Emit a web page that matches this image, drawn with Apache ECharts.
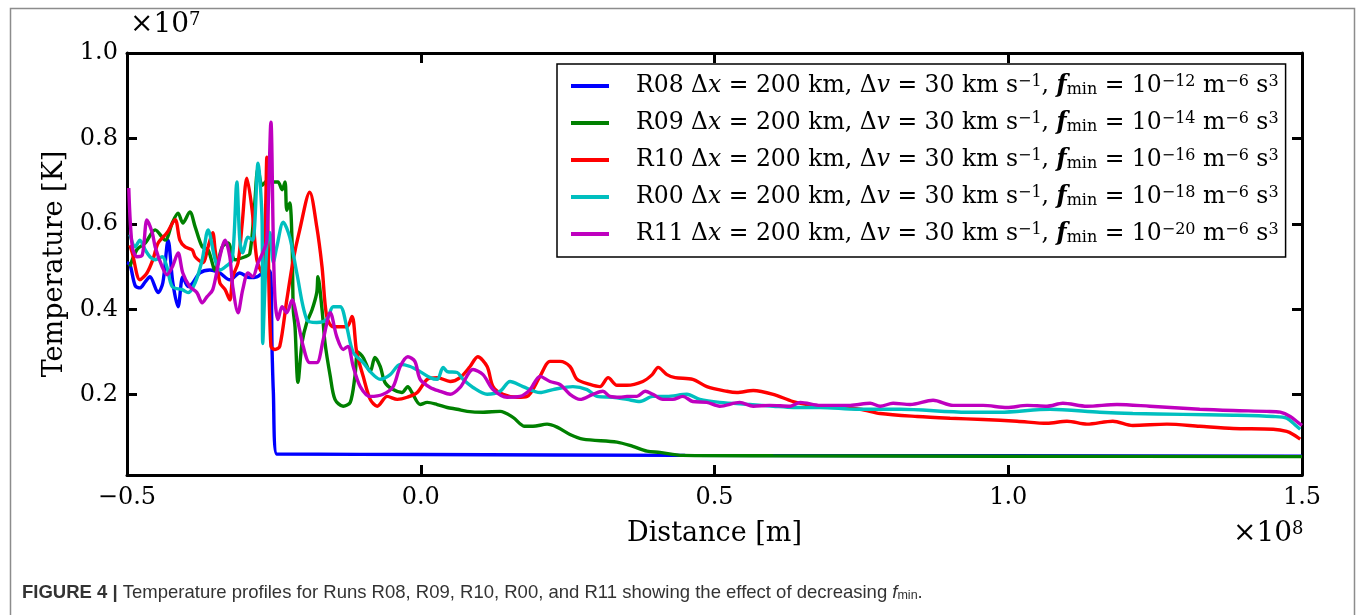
<!DOCTYPE html>
<html>
<head>
<meta charset="utf-8">
<script src="https://cdn.jsdelivr.net/npm/echarts@6/dist/echarts.min.js"></script>
<style>
html,body{margin:0;padding:0;background:#fff;}
#c{width:1360px;height:615px;}
</style>
</head>
<body>
<div id="c"></div>
<script>
// Distance in units of 1e8 m, temperature in units of 1e7 K
var xTicks = [-0.5, 0.0, 0.5, 1.0, 1.5];
var yTicks = [0.2, 0.4, 0.6, 0.8, 1.0];
var runNames = ['R08', 'R09', 'R10', 'R00', 'R11'];
var fminExp = ['−12', '−14', '−16', '−18', '−20'];
var colors = ['#0000ff', '#008000', '#ff0000', '#00bfbf', '#bf00bf'];

var r08 = [[-0.5,0.509],[-0.495,0.505],[-0.486,0.455],[-0.478,0.450],[-0.469,0.464],[-0.461,0.476],[-0.447,0.439],[-0.439,0.462],[-0.430,0.562],[-0.422,0.462],[-0.413,0.406],[-0.405,0.476],[-0.396,0.453],[-0.388,0.462],[-0.376,0.485],[-0.359,0.492],[-0.342,0.485],[-0.325,0.469],[-0.308,0.485],[-0.291,0.474],[-0.279,0.476],[-0.269,0.485],[-0.257,0.49],[-0.253,0.30],[-0.251,0.21],[-0.245,0.061],[0.0,0.060],[0.45,0.058],[1.0,0.057],[1.5,0.056]];

var r09 = [[-0.495,0.50],[-0.483,0.54],[-0.469,0.555],[-0.452,0.586],[-0.435,0.562],[-0.423,0.602],[-0.413,0.625],[-0.405,0.602],[-0.393,0.628],[-0.384,0.593],[-0.372,0.546],[-0.362,0.539],[-0.350,0.492],[-0.338,0.546],[-0.328,0.555],[-0.316,0.516],[-0.299,0.523],[-0.291,0.53],[-0.283,0.64],[-0.277,0.73],[-0.270,0.69],[-0.262,0.70],[-0.251,0.698],[-0.243,0.698],[-0.236,0.68],[-0.231,0.698],[-0.228,0.632],[-0.223,0.649],[-0.219,0.555],[-0.217,0.399],[-0.214,0.359],[-0.209,0.229],[-0.202,0.322],[-0.194,0.369],[-0.185,0.399],[-0.177,0.439],[-0.175,0.476],[-0.168,0.399],[-0.163,0.322],[-0.154,0.243],[-0.146,0.189],[-0.132,0.173],[-0.120,0.182],[-0.112,0.243],[-0.107,0.300],[-0.098,0.287],[-0.086,0.254],[-0.078,0.287],[-0.069,0.266],[-0.061,0.229],[-0.047,0.212],[-0.032,0.205],[-0.022,0.219],[-0.015,0.205],[-0.001,0.177],[0.011,0.182],[0.028,0.177],[0.045,0.170],[0.062,0.166],[0.079,0.161],[0.106,0.159],[0.135,0.161],[0.157,0.147],[0.177,0.126],[0.191,0.126],[0.215,0.131],[0.232,0.124],[0.254,0.107],[0.276,0.096],[0.334,0.089],[0.361,0.079],[0.385,0.068],[0.407,0.065],[0.446,0.058],[0.6,0.057],[1.0,0.056],[1.5,0.055]];

var r10 = [[-0.495,0.55],[-0.491,0.532],[-0.478,0.469],[-0.466,0.485],[-0.456,0.516],[-0.447,0.555],[-0.432,0.579],[-0.418,0.610],[-0.410,0.562],[-0.401,0.546],[-0.389,0.539],[-0.384,0.523],[-0.371,0.509],[-0.362,0.546],[-0.354,0.579],[-0.350,0.539],[-0.342,0.462],[-0.333,0.446],[-0.325,0.422],[-0.320,0.476],[-0.311,0.509],[-0.304,0.60],[-0.296,0.707],[-0.287,0.632],[-0.279,0.516],[-0.270,0.485],[-0.265,0.586],[-0.262,0.756],[-0.260,0.579],[-0.255,0.313],[-0.248,0.306],[-0.240,0.313],[-0.228,0.422],[-0.217,0.516],[-0.206,0.586],[-0.189,0.674],[-0.177,0.593],[-0.168,0.499],[-0.160,0.383],[-0.149,0.359],[-0.126,0.359],[-0.117,0.383],[-0.109,0.299],[-0.098,0.243],[-0.086,0.189],[-0.074,0.173],[-0.057,0.196],[-0.040,0.189],[-0.023,0.194],[-0.006,0.205],[0.011,0.236],[0.028,0.240],[0.050,0.231],[0.067,0.240],[0.084,0.266],[0.097,0.289],[0.113,0.266],[0.123,0.219],[0.140,0.201],[0.164,0.194],[0.181,0.196],[0.203,0.243],[0.220,0.278],[0.237,0.278],[0.254,0.266],[0.266,0.236],[0.288,0.224],[0.305,0.219],[0.319,0.240],[0.334,0.222],[0.351,0.222],[0.378,0.231],[0.394,0.247],[0.404,0.264],[0.419,0.247],[0.433,0.240],[0.463,0.236],[0.487,0.219],[0.521,0.208],[0.538,0.205],[0.566,0.210],[0.600,0.201],[0.634,0.184],[0.680,0.173],[0.702,0.172],[0.748,0.166],[0.782,0.156],[0.845,0.149],[0.901,0.145],[0.957,0.142],[1.015,0.138],[1.066,0.133],[1.100,0.138],[1.134,0.131],[1.178,0.138],[1.212,0.128],[1.270,0.131],[1.326,0.126],[1.383,0.121],[1.451,0.119],[1.474,0.114],[1.485,0.107],[1.497,0.096]];

var r00 = [[-0.495,0.575],[-0.486,0.546],[-0.478,0.562],[-0.469,0.539],[-0.461,0.523],[-0.452,0.516],[-0.440,0.523],[-0.432,0.499],[-0.423,0.453],[-0.406,0.446],[-0.396,0.439],[-0.384,0.462],[-0.372,0.516],[-0.362,0.586],[-0.350,0.516],[-0.342,0.492],[-0.333,0.499],[-0.321,0.516],[-0.313,0.698],[-0.308,0.562],[-0.303,0.532],[-0.294,0.569],[-0.286,0.562],[-0.277,0.742],[-0.270,0.600],[-0.269,0.32],[-0.262,0.55],[-0.257,0.58],[-0.251,0.51],[-0.245,0.546],[-0.234,0.604],[-0.223,0.569],[-0.211,0.485],[-0.194,0.376],[-0.177,0.369],[-0.160,0.376],[-0.149,0.406],[-0.137,0.406],[-0.126,0.359],[-0.115,0.299],[-0.098,0.275],[-0.086,0.254],[-0.069,0.236],[-0.052,0.247],[-0.035,0.271],[-0.018,0.266],[-0.001,0.254],[0.016,0.240],[0.028,0.236],[0.038,0.264],[0.045,0.254],[0.062,0.252],[0.072,0.236],[0.089,0.217],[0.113,0.201],[0.135,0.208],[0.152,0.231],[0.174,0.219],[0.203,0.205],[0.225,0.212],[0.259,0.219],[0.283,0.212],[0.300,0.196],[0.327,0.194],[0.351,0.189],[0.373,0.184],[0.395,0.196],[0.419,0.196],[0.453,0.201],[0.475,0.189],[0.509,0.182],[0.560,0.177],[0.600,0.173],[0.634,0.170],[0.680,0.170],[0.743,0.166],[0.816,0.166],[0.930,0.159],[0.986,0.159],[1.071,0.166],[1.156,0.159],[1.212,0.156],[1.297,0.154],[1.383,0.152],[1.451,0.149],[1.474,0.145],[1.491,0.126],[1.497,0.119]];

var r11 = [[-0.497,0.684],[-0.491,0.546],[-0.483,0.523],[-0.474,0.527],[-0.466,0.609],[-0.457,0.579],[-0.452,0.546],[-0.440,0.499],[-0.432,0.481],[-0.423,0.499],[-0.413,0.532],[-0.405,0.485],[-0.393,0.453],[-0.381,0.439],[-0.372,0.415],[-0.364,0.429],[-0.354,0.446],[-0.342,0.523],[-0.333,0.562],[-0.325,0.523],[-0.320,0.453],[-0.311,0.392],[-0.303,0.446],[-0.294,0.485],[-0.286,0.476],[-0.277,0.509],[-0.269,0.532],[-0.262,0.562],[-0.255,0.838],[-0.251,0.562],[-0.248,0.422],[-0.243,0.376],[-0.236,0.406],[-0.228,0.392],[-0.219,0.422],[-0.211,0.383],[-0.200,0.313],[-0.189,0.275],[-0.177,0.275],[-0.166,0.329],[-0.154,0.392],[-0.143,0.336],[-0.132,0.306],[-0.124,0.313],[-0.115,0.266],[-0.103,0.219],[-0.086,0.196],[-0.064,0.201],[-0.047,0.219],[-0.035,0.266],[-0.022,0.289],[-0.010,0.278],[-0.001,0.236],[0.016,0.217],[0.033,0.208],[0.050,0.201],[0.067,0.217],[0.089,0.259],[0.106,0.247],[0.123,0.212],[0.147,0.194],[0.169,0.196],[0.186,0.212],[0.203,0.243],[0.220,0.231],[0.237,0.224],[0.254,0.201],[0.271,0.189],[0.293,0.201],[0.310,0.208],[0.322,0.196],[0.339,0.194],[0.351,0.196],[0.368,0.196],[0.382,0.208],[0.395,0.201],[0.412,0.189],[0.429,0.189],[0.446,0.196],[0.463,0.184],[0.487,0.182],[0.509,0.173],[0.543,0.182],[0.566,0.173],[0.594,0.175],[0.629,0.173],[0.646,0.182],[0.680,0.175],[0.731,0.175],[0.765,0.180],[0.782,0.173],[0.804,0.180],[0.833,0.177],[0.872,0.187],[0.906,0.175],[0.957,0.175],[0.998,0.170],[1.032,0.175],[1.066,0.173],[1.093,0.180],[1.134,0.173],[1.185,0.177],[1.241,0.173],[1.326,0.166],[1.383,0.163],[1.440,0.161],[1.463,0.159],[1.480,0.149],[1.493,0.135],[1.5,0.128]];

var seriesData = [r08, r09, r10, r00, r11];

var SERIF = '"DejaVu Serif", serif';
var SANS = '"Liberation Sans", Arial, sans-serif';
var chart = echarts.init(document.getElementById('c'), null, {renderer: 'canvas'});

function fmtTick(v) {
  var s = Math.abs(v).toFixed(1);
  return v < 0 ? '−' + s : s;
}

var axisLineStyle = {color: '#000', width: 3};
var tickStyle = {color: '#000', width: 3};

var legendRich = {
  n: {fontFamily: SERIF, fontSize: 23.5, lineHeight: 24, color: '#000'},
  i: {fontFamily: SERIF, fontSize: 23.5, lineHeight: 24, fontStyle: 'italic', color: '#000'},
  f: {fontFamily: SERIF, fontSize: 23.5, lineHeight: 24, fontStyle: 'italic', fontWeight: 'bold', color: '#000'},
  sup: {fontFamily: SERIF, fontSize: 16, lineHeight: 14, verticalAlign: 'top', color: '#000'},
  sub: {fontFamily: SERIF, fontSize: 16, lineHeight: 14, verticalAlign: 'bottom', color: '#000'}
};

var series = runNames.map(function (name, k) {
  return {
    name: name,
    type: 'line',
    data: seriesData[k],
    symbol: 'none',
    smooth: 0.3,
    lineStyle: {color: colors[k], width: 3.4},
    itemStyle: {color: colors[k]},
    z: 2 + k,
    animation: false
  };
});

var option = {
  animation: false,
  backgroundColor: '#fff',
  grid: {left: 127, right: 58, top: 53, bottom: 140, containLabel: false},
  legend: {
    orient: 'vertical',
    left: 557,
    top: 64,
    padding: [10, 7, 11, 14],
    itemGap: 13,
    itemWidth: 38,
    itemHeight: 4,
    icon: 'rect',
    backgroundColor: '#fff',
    borderColor: '#000',
    borderWidth: 1.5,
    borderRadius: 0,
    data: runNames,
    textStyle: {rich: legendRich, padding: [0, 0, 0, 22]},
    formatter: function (name) {
      var k = runNames.indexOf(name);
      return '{n|' + name + ' Δ}{i|x}{n| = 200 km, Δ}{i|v}{n| = 30 km s}{sup|−1}{n|, }{f|f}{sub|min}{n| = 10}{sup|' + fminExp[k] + '}{n| m}{sup|−6}{n| s}{sup|3}';
    }
  },
  xAxis: [{
    type: 'value', min: -0.5, max: 1.5, interval: 0.5, position: 'bottom',
    name: 'Distance [m]', nameLocation: 'middle', nameGap: 45,
    nameTextStyle: {fontFamily: SERIF, fontSize: 27, color: '#000'},
    axisLine: {show: true, onZero: false, lineStyle: axisLineStyle},
    axisTick: {show: true, inside: true, length: 10, lineStyle: tickStyle},
    axisLabel: {show: true, margin: 11, fontFamily: SERIF, fontSize: 24, color: '#000', formatter: fmtTick},
    splitLine: {show: false}
  }, {
    type: 'value', min: -0.5, max: 1.5, interval: 0.5, position: 'top',
    axisLine: {show: true, onZero: false, lineStyle: axisLineStyle},
    axisTick: {show: true, inside: true, length: 10, lineStyle: tickStyle},
    axisLabel: {show: false},
    splitLine: {show: false}
  }],
  yAxis: [{
    type: 'value', min: 0.012, max: 1.0, position: 'left',
    name: 'Temperature [K]', nameLocation: 'middle', nameGap: 58, nameRotate: 90,
    nameTextStyle: {fontFamily: SERIF, fontSize: 27, color: '#000'},
    axisLine: {show: true, onZero: false, lineStyle: axisLineStyle},
    axisTick: {show: true, inside: true, length: 10, lineStyle: tickStyle, customValues: yTicks},
    axisLabel: {show: true, margin: 9, fontFamily: SERIF, fontSize: 24, color: '#000', customValues: yTicks, formatter: fmtTick},
    splitLine: {show: false}
  }, {
    type: 'value', min: 0.012, max: 1.0, position: 'right',
    axisLine: {show: true, onZero: false, lineStyle: axisLineStyle},
    axisTick: {show: true, inside: true, length: 10, lineStyle: tickStyle, customValues: yTicks},
    axisLabel: {show: false, customValues: yTicks},
    splitLine: {show: false}
  }],
  graphic: [
    {type: 'rect', left: 8, top: 6, shape: {width: 1344, height: 640}, style: {fill: 'none', stroke: '#8c8c8c', lineWidth: 1.5}, silent: true, z: -10},
    {type: 'text', left: 130, top: 11, style: {
      text: '×10{s|7}', fontFamily: SERIF, fontSize: 28, fill: '#000',
      rich: {s: {fontFamily: SERIF, fontSize: 18, verticalAlign: 'top', lineHeight: 18}}
    }},
    {type: 'text', left: 1233, top: 520, style: {
      text: '×10{s|8}', fontFamily: SERIF, fontSize: 28, fill: '#000',
      rich: {s: {fontFamily: SERIF, fontSize: 18, verticalAlign: 'top', lineHeight: 18}}
    }},
    {type: 'text', left: 22, top: 583, style: {
      text: '{b|FIGURE 4 |} Temperature profiles for Runs R08, R09, R10, R00, and R11 showing the effect of decreasing {it|f}{sb|min}.',
      fontFamily: SANS, fontSize: 18.5, fill: '#333',
      rich: {
        b: {fontFamily: SANS, fontSize: 18.5, fontWeight: 'bold', color: '#222'},
        it: {fontFamily: SANS, fontSize: 18.5, fontStyle: 'italic', color: '#333'},
        sb: {fontFamily: SANS, fontSize: 12.5, verticalAlign: 'bottom', lineHeight: 12, color: '#333'}
      }
    }}
  ],
  series: series
};
chart.setOption(option);
</script>
</body>
</html>
